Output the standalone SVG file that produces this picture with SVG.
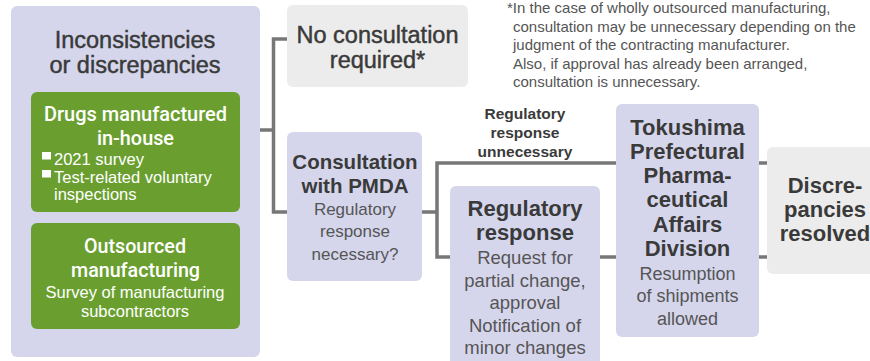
<svg xmlns="http://www.w3.org/2000/svg" width="870" height="361" viewBox="0 0 870 361">
<style>
.lav{fill:#d5d6ec}
.gray{fill:#ececec}
.grn{fill:#6a9f30}
.conn{fill:none;stroke:#777;stroke-width:3.5}
text{font-family:"Liberation Sans",Arial,sans-serif;text-anchor:middle}
.h{fill:#3a3a3a;font-weight:bold}
.hr{fill:#3a3a3a;stroke:#3a3a3a;stroke-width:0.45}
.s{fill:#555}
.gh{fill:#fff;font-family:Roboto,"Liberation Sans",sans-serif;font-weight:500;font-size:21px}
.gs{fill:#fff;font-size:16.5px}
.note{fill:#555;font-size:15px;text-anchor:start}
</style>
<rect width="870" height="361" fill="#fff"/>
<g id="connectors">
<path class="conn" d="M260,130 H273.5 M287,39 H273.5 V212 H287"/>
<path class="conn" d="M422,212 H437 M616,163 H437 V257 H450"/>
<path class="conn" d="M600,257 H616"/>
<path class="conn" d="M759,163 H767 M759,257 H767"/>
</g>
<g id="inconsistencies">
<rect class="lav" x="11" y="6" width="249" height="351" rx="6"/>
<text class="hr" x="135" y="48" font-size="23.5">Inconsistencies</text>
<text class="hr" x="135" y="73" font-size="23.5">or discrepancies</text>
</g>
<g id="inhouse">
<rect class="grn" x="31" y="92" width="209" height="120" rx="6"/>
<text class="gh" x="135.5" y="121" textLength="183" lengthAdjust="spacingAndGlyphs">Drugs manufactured</text>
<text class="gh" x="135.5" y="145" textLength="77" lengthAdjust="spacingAndGlyphs">in-house</text>
<rect x="42" y="152" width="9" height="7.5" fill="#fff"/>
<rect x="42" y="170" width="9" height="7.5" fill="#fff"/>
<text class="gs" x="54" y="165" style="text-anchor:start">2021 survey</text>
<text class="gs" x="54" y="183" style="text-anchor:start">Test-related voluntary</text>
<text class="gs" x="54" y="200" style="text-anchor:start">inspections</text>
</g>
<g id="outsourced">
<rect class="grn" x="31" y="223" width="209" height="106" rx="6"/>
<text class="gh" x="135" y="253" textLength="102" lengthAdjust="spacingAndGlyphs">Outsourced</text>
<text class="gh" x="135.5" y="277" textLength="129" lengthAdjust="spacingAndGlyphs">manufacturing</text>
<text class="gs" x="135" y="298" font-size="17">Survey of manufacturing</text>
<text class="gs" x="135" y="317" font-size="17">subcontractors</text>
</g>
<g id="noconsult">
<rect class="gray" x="287" y="5" width="181" height="82" rx="6"/>
<text class="hr" x="377.5" y="43" font-size="23.5">No consultation</text>
<text class="hr" x="377.5" y="68" font-size="23.5">required*</text>
</g>
<g id="note">
<text class="note" x="507" y="13">*In the case of wholly outsourced manufacturing,</text>
<text class="note" x="513" y="32">consultation may be unnecessary depending on the</text>
<text class="note" x="513" y="50">judgment of the contracting manufacturer.</text>
<text class="note" x="513" y="69">Also, if approval has already been arranged,</text>
<text class="note" x="513" y="87">consultation is unnecessary.</text>
</g>
<g id="pmda">
<rect class="lav" x="287" y="132" width="135" height="149" rx="6"/>
<text class="h" x="355" y="169" font-size="20.5">Consultation</text>
<text class="h" x="355" y="193" font-size="20.5">with PMDA</text>
<text class="s" x="355" y="215" font-size="17">Regulatory</text>
<text class="s" x="355" y="237" font-size="17">response</text>
<text class="s" x="355" y="260" font-size="17">necessary?</text>
</g>
<g id="label">
<text class="h" x="525" y="119" font-size="15.5">Regulatory</text>
<text class="h" x="525" y="138" font-size="15.5">response</text>
<text class="h" x="525" y="157" font-size="15.5">unnecessary</text>
</g>
<g id="regresp">
<rect class="lav" x="450" y="186" width="150" height="190" rx="6"/>
<text class="h" x="525" y="216" font-size="22">Regulatory</text>
<text class="h" x="525" y="240" font-size="22">response</text>
<text class="s" x="525" y="264" font-size="18.5">Request for</text>
<text class="s" x="525" y="287" font-size="18.5">partial change,</text>
<text class="s" x="525" y="309" font-size="18.5">approval</text>
<text class="s" x="525" y="332" font-size="18.5">Notification of</text>
<text class="s" x="525" y="354" font-size="18.5">minor changes</text>
</g>
<g id="tokushima">
<rect class="lav" x="616" y="104" width="143" height="233" rx="6"/>
<text class="h" x="687.5" y="135" font-size="22">Tokushima</text>
<text class="h" x="687.5" y="159" font-size="22">Prefectural</text>
<text class="h" x="687.5" y="183" font-size="22">Pharma-</text>
<text class="h" x="687.5" y="207" font-size="22">ceutical</text>
<text class="h" x="687.5" y="232" font-size="22">Affairs</text>
<text class="h" x="687.5" y="256" font-size="22">Division</text>
<text class="s" x="687.5" y="280" font-size="18">Resumption</text>
<text class="s" x="687.5" y="302" font-size="18">of shipments</text>
<text class="s" x="687.5" y="325" font-size="18">allowed</text>
</g>
<g id="resolved">
<rect class="gray" x="767" y="147" width="120" height="127" rx="6"/>
<text class="h" x="825" y="193" font-size="22">Discre-</text>
<text class="h" x="825" y="217" font-size="22">pancies</text>
<text class="h" x="825" y="241" font-size="22">resolved</text>
</g>
</svg>
